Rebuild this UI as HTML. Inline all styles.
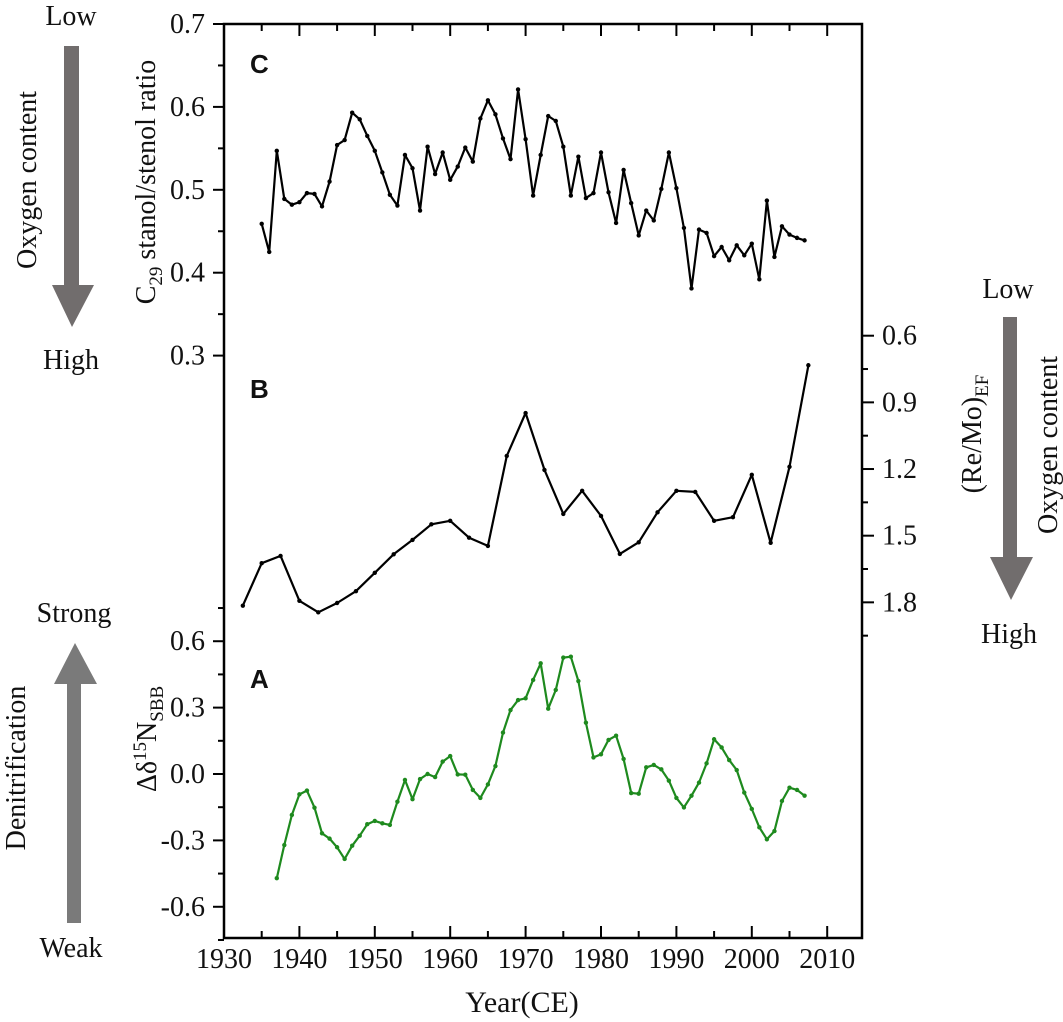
<!DOCTYPE html>
<html><head><meta charset="utf-8"><style>
html,body{margin:0;padding:0;background:#fff}
svg{display:block}
svg text{font-family:"Liberation Serif","Times New Roman","DejaVu Serif",serif;fill:#111}
svg text.sans{font-family:"Liberation Sans",Arial,sans-serif}
</style></head><body>
<svg id="chart" width="1063" height="1022" viewBox="0 0 1063 1022" xmlns="http://www.w3.org/2000/svg">
<g id="frame"></g>
<g id="series"></g>
<g>
  <text class="sans" x="250" y="73" font-weight="bold" font-size="26">C</text>
  <text class="sans" x="250" y="398" font-weight="bold" font-size="26">B</text>
  <text class="sans" x="250" y="688" font-weight="bold" font-size="26">A</text>
  <text x="522" y="1012" text-anchor="middle" font-size="30">Year(CE)</text>
  <text transform="translate(155,182) rotate(-90)" text-anchor="middle" font-size="28">C<tspan font-size="19" dy="7">29</tspan><tspan dy="-7"> stanol/stenol ratio</tspan></text>
  <text transform="translate(156,739) rotate(-90)" text-anchor="middle" font-size="28">Δδ<tspan font-size="19" dy="-10">15</tspan><tspan dy="10">N</tspan><tspan font-size="19" dy="7">SBB</tspan></text>
  <text transform="translate(981,434) rotate(-90)" text-anchor="middle" font-size="28">(Re/Mo)<tspan font-size="19" dy="7">EF</tspan></text>
  <text x="71" y="25" text-anchor="middle" font-size="28">Low</text>
  <polygon points="64,46 79,46 79,285 94,285 72,327 52,285 64,285" fill="#716d6d"/>
  <text transform="translate(36,180) rotate(-90)" text-anchor="middle" font-size="28">Oxygen content</text>
  <text x="71" y="369" text-anchor="middle" font-size="28">High</text>
  <text x="74" y="622" text-anchor="middle" font-size="28">Strong</text>
  <polygon points="75,643 97,684 81,684 81,923 67,923 67,684 54,684" fill="#7a7a7a"/>
  <text transform="translate(25,768) rotate(-90)" text-anchor="middle" font-size="28">Denitrification</text>
  <text x="71" y="957" text-anchor="middle" font-size="28">Weak</text>
  <text x="1008" y="298" text-anchor="middle" font-size="28">Low</text>
  <polygon points="1003,317 1017,317 1017,557 1033,557 1011,600 990,557 1003,557" fill="#716d6d"/>
  <text transform="translate(1057,445) rotate(-90)" text-anchor="middle" font-size="28">Oxygen content</text>
  <text x="1009" y="643" text-anchor="middle" font-size="28">High</text>
</g>
</svg>
<script>
const yearsC=[1935,1936,1937,1938,1939,1940,1941,1942,1943,1944,1945,1946,1947,1948,1949,1950,1951,1952,1953,1954,1955,1956,1957,1958,1959,1960,1961,1962,1963,1964,1965,1966,1967,1968,1969,1970,1971,1972,1973,1974,1975,1976,1977,1978,1979,1980,1981,1982,1983,1984,1985,1986,1987,1988,1989,1990,1991,1992,1993,1994,1995,1996,1997,1998,1999,2000,2001,2002,2003,2004,2005,2006,2007];
const valuesC=[0.459,0.425,0.547,0.489,0.482,0.485,0.496,0.495,0.480,0.510,0.554,0.560,0.593,0.585,0.565,0.547,0.521,0.494,0.481,0.542,0.526,0.475,0.552,0.519,0.545,0.512,0.528,0.551,0.534,0.586,0.608,0.591,0.562,0.537,0.621,0.561,0.493,0.542,0.589,0.583,0.552,0.493,0.540,0.490,0.496,0.545,0.497,0.460,0.524,0.484,0.445,0.475,0.463,0.501,0.545,0.502,0.454,0.381,0.452,0.448,0.420,0.431,0.415,0.433,0.421,0.435,0.392,0.487,0.419,0.456,0.446,0.442,0.439];
const yearsB=[1932.5,1935,1937.5,1940,1942.5,1945,1947.5,1950,1952.5,1955,1957.5,1960,1962.5,1965,1967.5,1970,1972.5,1975,1977.5,1980,1982.5,1985,1987.5,1990,1992.5,1995,1997.5,2000,2002.5,2005,2007.5];
const valuesB=[1.815,1.624,1.591,1.793,1.845,1.803,1.750,1.667,1.584,1.519,1.449,1.433,1.509,1.546,1.141,0.948,1.204,1.402,1.298,1.411,1.582,1.530,1.395,1.298,1.303,1.433,1.417,1.226,1.532,1.190,0.733];
const yearsA=[1937,1938,1939,1940,1941,1942,1943,1944,1945,1946,1947,1948,1949,1950,1951,1952,1953,1954,1955,1956,1957,1958,1959,1960,1961,1962,1963,1964,1965,1966,1967,1968,1969,1970,1971,1972,1973,1974,1975,1976,1977,1978,1979,1980,1981,1982,1983,1984,1985,1986,1987,1988,1989,1990,1991,1992,1993,1994,1995,1996,1997,1998,1999,2000,2001,2002,2003,2004,2005,2006,2007];
const valuesA=[-0.471,-0.321,-0.185,-0.092,-0.075,-0.152,-0.268,-0.292,-0.331,-0.384,-0.324,-0.279,-0.227,-0.212,-0.223,-0.230,-0.125,-0.027,-0.114,-0.023,0.000,-0.014,0.056,0.081,-0.002,-0.003,-0.072,-0.108,-0.047,0.036,0.187,0.289,0.334,0.342,0.425,0.500,0.295,0.380,0.526,0.530,0.420,0.232,0.075,0.089,0.154,0.173,0.068,-0.086,-0.089,0.030,0.041,0.021,-0.030,-0.108,-0.151,-0.098,-0.039,0.048,0.157,0.120,0.063,0.018,-0.084,-0.158,-0.241,-0.295,-0.258,-0.122,-0.062,-0.072,-0.098];
const xTicks=[1930,1940,1950,1960,1970,1980,1990,2000,2010];
const cTicks=[0.3,0.4,0.5,0.6,0.7];
const aTicks=[-0.6,-0.3,0.0,0.3,0.6];
const bTicks=[0.6,0.9,1.2,1.5,1.8];

const NS='http://www.w3.org/2000/svg';
const L=224,R=862,T=24,B=938;
const xS=y=>L+(y-1930)*7.54;
const yC=v=>24+(0.7-v)*829;
const yB=v=>335.7+(v-0.6)*222.2;
const yA=v=>774-v*221.3;
function mk(tag,attrs,parent){const e=document.createElementNS(NS,tag);for(const k in attrs)e.setAttribute(k,attrs[k]);parent.appendChild(e);return e;}
const frame=document.getElementById('frame');
const ser=document.getElementById('series');
const box=mk('rect',{x:L,y:T,width:R-L,height:B-T,fill:'none',stroke:'#000','stroke-width':2.5},frame);


function line(x1,y1,x2,y2,name){const l=mk('line',{x1,y1,x2,y2,stroke:'#000','stroke-width':2},frame);

}
function label(x,y,t,anchor,name){const e=mk('text',{x,y,'text-anchor':anchor,'font-size':28},frame);e.textContent=t;

}
xTicks.forEach(t=>{const x=xS(t);line(x,B,x,B-12,'x-tick');line(x,T,x,T+12,'x-tick-top');label(x,968,String(t),'middle','x-tick-label');
 if(t<2010){const m=xS(t+5);line(m,B,m,B-7,'x-minor-tick');line(m,T,m,T+7,'x-minor-tick-top');}});
cTicks.forEach(t=>{const y=yC(t);line(L,y,L-11,y,'c-tick');label(205,y+9,t.toFixed(1),'end','c-tick-label');
 if(t<0.7){const m=yC(t+0.05);line(L,m,L-6,m,'c-minor-tick');}});
aTicks.forEach(t=>{const y=yA(t);line(L,y,L-11,y,'a-tick');label(205,y+9,t.toFixed(1),'end','a-tick-label');});
[-0.75,-0.45,-0.15,0.15,0.45,0.75].forEach(t=>{const m=yA(t);line(L,m,L-6,m,'a-minor-tick');});
bTicks.forEach(t=>{const y=yB(t);line(R,y,R+12,y,'b-tick');label(882,y+9,t.toFixed(1),'start','b-tick-label');
 const m=yB(t+0.15);line(R,m,R+6,m,'b-minor-tick');});
function draw(xs,vs,yf,color,name){
 const pts=xs.map((x,i)=>xS(x).toFixed(1)+','+yf(vs[i]).toFixed(1)).join(' ');
 const p=mk('polyline',{points:pts,fill:'none',stroke:color,'stroke-width':2.2,'stroke-linejoin':'round'},ser);
 
 
 xs.forEach((x,i)=>{const c=mk('circle',{cx:xS(x),cy:yf(vs[i]),r:2.2,fill:color},ser);
 
 });
}
draw(yearsC,valuesC,yC,'#000','c29-ratio');
draw(yearsB,valuesB,yB,'#000','re-mo-ef');
draw(yearsA,valuesA,yA,'#1e8a1e','delta-n15-sbb');
</script>
</body></html>
